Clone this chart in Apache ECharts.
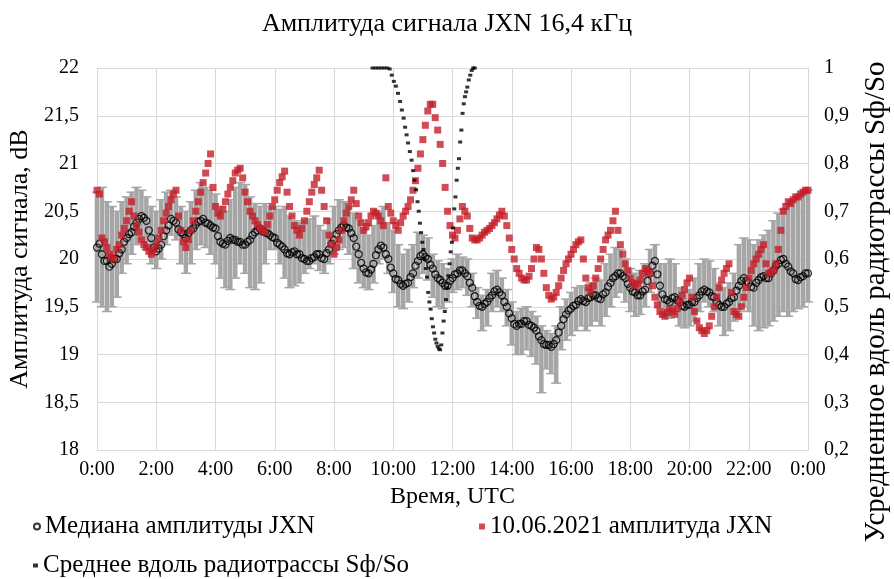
<!DOCTYPE html>
<html>
<head>
<meta charset="utf-8">
<script src="https://cdn.jsdelivr.net/npm/echarts@6/dist/echarts.min.js"></script>
<style>
  html, body { margin: 0; padding: 0; background: #fff; }
  #chart { width: 894px; height: 579px; }
</style>
</head>
<body>
<div id="chart"></div>
<script>
// медиана и 10.06 — шаг 5 минут (289 точек), разброс — шаг 10 минут (145 точек)
const stepMin = 5;
const spreadStepMin = 10;

// медиана амплитуды JXN, dB (по часам, 12 значений в строке)
const medianDb = [
  20.12, 20.16, 20.05, 19.98, 19.98, 19.92, 19.95, 20.00, 20.00, 20.06, 20.10, 20.18,
  20.22, 20.26, 20.28, 20.34, 20.38, 20.42, 20.45, 20.43, 20.40, 20.30, 20.22, 20.12,
  20.08, 20.11, 20.15, 20.24, 20.30, 20.35, 20.42, 20.40, 20.38, 20.31, 20.28, 20.26,
  20.22, 20.27, 20.30, 20.32, 20.36, 20.39, 20.40, 20.42, 20.38, 20.37, 20.35, 20.33,
  20.32, 20.24, 20.18, 20.16, 20.15, 20.19, 20.22, 20.20, 20.20, 20.18, 20.18, 20.15,
  20.15, 20.18, 20.20, 20.25, 20.28, 20.30, 20.32, 20.29, 20.28, 20.27, 20.25, 20.23,
  20.22, 20.17, 20.15, 20.13, 20.10, 20.06, 20.05, 20.07, 20.08, 20.05, 20.05, 20.01,
  20.00, 19.98, 19.98, 20.01, 20.02, 20.05, 20.05, 20.01, 20.00, 20.06, 20.10, 20.16,
  20.20, 20.26, 20.30, 20.33, 20.35, 20.33, 20.32, 20.27, 20.22, 20.13, 20.05, 19.96,
  19.90, 19.86, 19.85, 19.89, 19.95, 20.04, 20.10, 20.14, 20.12, 20.05, 20.00, 19.91,
  19.85, 19.79, 19.78, 19.74, 19.72, 19.74, 19.75, 19.81, 19.85, 19.93, 19.98, 20.03,
  20.05, 20.02, 20.00, 19.94, 19.90, 19.84, 19.80, 19.78, 19.75, 19.72, 19.72, 19.77,
  19.80, 19.84, 19.85, 19.88, 19.88, 19.85, 19.82, 19.75, 19.70, 19.61, 19.55, 19.51,
  19.50, 19.53, 19.55, 19.59, 19.62, 19.66, 19.68, 19.65, 19.62, 19.55, 19.50, 19.43,
  19.38, 19.32, 19.30, 19.32, 19.32, 19.35, 19.35, 19.31, 19.30, 19.28, 19.25, 19.19,
  19.15, 19.11, 19.10, 19.10, 19.08, 19.11, 19.15, 19.23, 19.30, 19.37, 19.42, 19.46,
  19.48, 19.51, 19.52, 19.56, 19.58, 19.56, 19.55, 19.59, 19.60, 19.62, 19.62, 19.59,
  19.58, 19.63, 19.65, 19.71, 19.75, 19.80, 19.82, 19.85, 19.85, 19.82, 19.80, 19.74,
  19.70, 19.66, 19.65, 19.62, 19.62, 19.66, 19.68, 19.77, 19.85, 19.93, 19.98, 19.84,
  19.72, 19.63, 19.58, 19.57, 19.55, 19.59, 19.60, 19.57, 19.55, 19.51, 19.50, 19.52,
  19.52, 19.55, 19.55, 19.59, 19.62, 19.66, 19.68, 19.66, 19.65, 19.61, 19.60, 19.55,
  19.52, 19.50, 19.50, 19.53, 19.55, 19.59, 19.60, 19.67, 19.72, 19.77, 19.80, 19.77,
  19.75, 19.71, 19.70, 19.75, 19.78, 19.81, 19.82, 19.80, 19.80, 19.85, 19.88, 19.93,
  19.95, 19.99, 20.00, 19.95, 19.92, 19.87, 19.85, 19.79, 19.78, 19.81, 19.82, 19.85,
  19.85
];

// нижняя и верхняя границы разброса (серые «усы»), dB
const spreadLow = [
  19.55, 19.50, 19.45, 19.50, 19.60, 19.85, 19.95, 20.05, 20.15, 20.20, 20.10, 19.95,
  19.90, 20.00, 20.15, 20.25, 20.20, 19.95, 19.85, 19.95, 20.10, 20.15, 20.12, 20.05,
  19.95, 19.80, 19.70, 19.68, 19.80, 19.95, 19.85, 19.70, 19.68, 19.75, 19.95, 20.10,
  20.10, 19.95, 19.80, 19.70, 19.72, 19.75, 19.85, 19.90, 19.95, 19.88, 19.85, 19.95,
  20.05, 20.10, 20.12, 20.05, 19.90, 19.75, 19.70, 19.68, 19.75, 19.95, 20.00, 19.85,
  19.65, 19.50, 19.48, 19.55, 19.70, 19.80, 19.85, 19.78, 19.60, 19.50, 19.48, 19.55,
  19.65, 19.68, 19.70, 19.62, 19.50, 19.38, 19.25, 19.30, 19.45, 19.50, 19.45, 19.30,
  19.10, 19.00, 19.00, 19.05, 18.98, 18.90, 18.60, 18.85, 18.80, 18.70, 19.05, 19.15,
  19.20, 19.25, 19.30, 19.25, 19.30, 19.35, 19.30, 19.40, 19.50, 19.60, 19.65, 19.55,
  19.45, 19.40, 19.42, 19.50, 19.65, 19.75, 19.50, 19.40, 19.38, 19.42, 19.30, 19.28,
  19.30, 19.35, 19.45, 19.55, 19.50, 19.45, 19.30, 19.20, 19.25, 19.35, 19.45, 19.50,
  19.45, 19.30, 19.25, 19.28, 19.30, 19.35, 19.40, 19.45, 19.40, 19.45, 19.48, 19.50,
  19.55
];
const spreadHigh = [
  20.70, 20.75, 20.60, 20.55, 20.50, 20.60, 20.65, 20.70, 20.75, 20.72, 20.65, 20.55,
  20.50, 20.62, 20.70, 20.72, 20.65, 20.55, 20.50, 20.60, 20.72, 20.80, 20.75, 20.72,
  20.68, 20.55, 20.50, 20.62, 20.75, 20.80, 20.78, 20.65, 20.58, 20.55, 20.58, 20.55,
  20.55, 20.52, 20.55, 20.45, 20.40, 20.38, 20.40, 20.42, 20.45, 20.35, 20.30, 20.42,
  20.55, 20.62, 20.60, 20.55, 20.48, 20.40, 20.30, 20.25, 20.35, 20.50, 20.55, 20.38,
  20.30, 20.15, 20.05, 20.10, 20.15, 20.28, 20.25, 20.22, 20.05, 19.98, 19.95, 19.90,
  20.00, 20.05, 20.02, 20.00, 19.85, 19.70, 19.62, 19.68, 19.85, 19.88, 19.80, 19.68,
  19.55, 19.45, 19.48, 19.50, 19.45, 19.40, 19.30, 19.25, 19.22, 19.30, 19.50, 19.58,
  19.65, 19.70, 19.72, 19.70, 19.75, 19.80, 19.78, 19.95, 20.05, 20.12, 20.10, 20.00,
  19.90, 19.85, 19.88, 19.95, 20.10, 20.15, 19.95, 19.95, 20.00, 19.95, 19.70, 19.65,
  19.68, 19.80, 19.95, 20.00, 19.98, 19.90, 19.75, 19.70, 19.75, 19.85, 20.15, 20.22,
  20.20, 20.15, 20.20, 20.25, 20.30, 20.40, 20.48, 20.52, 20.58, 20.62, 20.65, 20.70,
  20.72
];

// 10.06.2021 амплитуда JXN, dB (по часам, 12 значений в строке)
const dayDb = [
  20.72, 20.68, 20.22, 20.18, 20.12, 20.05, 20.02, 20.00, 20.10, 20.15, 20.25, 20.32,
  20.40, 20.50, 20.60, 20.45, 20.35, 20.28, 20.20, 20.15, 20.12, 20.08, 20.05, 20.10,
  20.15, 20.22, 20.30, 20.40, 20.48, 20.55, 20.62, 20.68, 20.72, 20.45, 20.30, 20.18,
  20.12, 20.20, 20.30, 20.40, 20.50, 20.60, 20.70, 20.80, 20.90, 21.00, 21.10, 20.75,
  20.55, 20.48, 20.45, 20.52, 20.60, 20.68, 20.75, 20.82, 20.90, 20.93, 20.95, 20.85,
  20.70, 20.60, 20.50, 20.45, 20.40, 20.36, 20.32, 20.30, 20.28, 20.36, 20.45, 20.55,
  20.62, 20.72, 20.80, 20.86, 20.92, 20.70, 20.55, 20.45, 20.35, 20.30, 20.25, 20.32,
  20.40, 20.50, 20.60, 20.70, 20.78, 20.85, 20.93, 20.72, 20.55, 20.40, 20.25, 20.15,
  20.05, 20.12, 20.20, 20.30, 20.40, 20.48, 20.55, 20.62, 20.72, 20.58, 20.45, 20.38,
  20.30, 20.34, 20.38, 20.45, 20.50, 20.48, 20.45, 20.40, 20.35, 20.85, 20.55, 20.48,
  20.40, 20.35, 20.30, 20.38, 20.45, 20.50, 20.55, 20.62, 20.72, 20.82, 20.95, 21.10,
  21.25, 21.40, 21.55, 21.62, 21.62, 21.48, 21.35, 21.20, 21.00, 20.75, 20.50, 20.35,
  20.25, 20.22, 20.30, 20.42, 20.55, 20.50, 20.45, 20.32, 20.22, 20.20, 20.20, 20.22,
  20.25, 20.28, 20.30, 20.32, 20.35, 20.38, 20.42, 20.46, 20.50, 20.45, 20.35, 20.22,
  20.10, 20.00, 19.90, 19.85, 19.80, 19.78, 19.78, 19.82, 19.90, 20.00, 20.12, 20.10,
  20.00, 19.85, 19.70, 19.62, 19.58, 19.60, 19.65, 19.72, 19.80, 19.88, 19.95, 20.00,
  20.05, 20.10, 20.15, 20.18, 20.20, 20.00, 19.80, 19.70, 19.65, 19.72, 19.80, 19.90,
  20.00, 20.10, 20.20, 20.25, 20.30, 20.40, 20.50, 20.30, 20.15, 20.05, 19.95, 19.88,
  19.80, 19.75, 19.72, 19.74, 19.78, 19.85, 19.90, 19.88, 19.85, 19.72, 19.60, 19.52,
  19.45, 19.42, 19.40, 19.44, 19.48, 19.45, 19.42, 19.48, 19.55, 19.62, 19.68, 19.75,
  19.80, 19.60, 19.45, 19.35, 19.28, 19.25, 19.22, 19.25, 19.30, 19.40, 19.50, 19.60,
  19.70, 19.78, 19.85, 19.90, 19.95, 19.65, 19.45, 19.42, 19.40, 19.50, 19.60, 19.70,
  19.80, 19.88, 19.95, 20.00, 20.05, 20.10, 20.15, 19.95, 19.85, 19.86, 19.88, 19.95,
  20.10, 20.30, 20.50, 20.55, 20.60, 20.58, 20.62, 20.65, 20.65, 20.68, 20.70, 20.72,
  20.72
];

// среднее вдоль радиотрассы Sф/So (время в часах UTC и значение)
const sfHours = [
  9.30, 9.40, 9.50, 9.60, 9.70, 9.80, 9.88, 9.95, 10.02, 10.09, 10.16, 10.23, 10.29,
  10.35, 10.40, 10.45, 10.50, 10.56, 10.62, 10.67, 10.72, 10.77, 10.82, 10.86, 10.90,
  10.94, 10.98, 11.02, 11.06, 11.10, 11.14, 11.18, 11.22, 11.26, 11.30, 11.34, 11.38,
  11.42, 11.46, 11.50, 11.54, 11.58, 11.62, 11.66, 11.70, 11.74, 11.78, 11.82, 11.86,
  11.90, 11.94, 11.98, 12.02, 12.06, 12.10, 12.14, 12.18, 12.22, 12.26, 12.30, 12.34,
  12.38, 12.42, 12.46, 12.50, 12.55, 12.60, 12.65, 12.70, 12.75
];
const sfRatio = [
  1.000, 1.000, 1.000, 1.000, 1.000, 1.000, 0.998, 0.985, 0.972, 0.962, 0.947, 0.930, 0.912,
  0.895, 0.876, 0.860, 0.843, 0.825, 0.807, 0.785, 0.765, 0.745, 0.720, 0.700, 0.675,
  0.655, 0.635, 0.620, 0.600, 0.580, 0.562, 0.530, 0.510, 0.495, 0.475, 0.458, 0.445,
  0.432, 0.424, 0.417, 0.412, 0.410, 0.420, 0.445, 0.470, 0.490, 0.515, 0.540, 0.565,
  0.590, 0.615, 0.635, 0.665, 0.705, 0.730, 0.765, 0.790, 0.810, 0.845, 0.870, 0.905,
  0.925, 0.940, 0.950, 0.960, 0.975, 0.985, 0.995, 1.000, 1.000
];

const hourLabels = ["0:00", "2:00", "4:00", "6:00", "8:00", "10:00", "12:00",
  "14:00", "16:00", "18:00", "20:00", "22:00", "0:00"];

const nameMedian = "Медиана амплитуды JXN";
const nameDay = "10.06.2021 амплитуда JXN";
const nameSf = "Среднее вдоль радиотрассы Sф/So";
const rightTitle = "Усредненное вдоль радиотрассы Sф/So";

const font = "Liberation Serif";
const gridColor = "#d9d9d9";

const hourOf = (i, step) => (i * step) / 60;
const comma = v => String(+v.toFixed(2)).replace(".", ",");

let chart = echarts.init(document.getElementById("chart"));

let option = {
  animation: false,
  backgroundColor: "#fff",
  title: {
    text: "Амплитуда сигнала JXN 16,4 кГц",
    left: "center",
    top: 6,
    textStyle: { fontFamily: font, fontSize: 26, fontWeight: "normal", color: "#000" }
  },
  // подпись правой оси — отдельным текстом, она смещена вниз относительно области
  graphic: [
    {
      type: "text",
      x: 876,
      y: 302,
      rotation: Math.PI / 2,
      style: {
        text: rightTitle,
        fontFamily: font,
        fontSize: 29,
        fill: "#000",
        align: "center",
        verticalAlign: "middle"
      }
    }
  ],
  legend: [
    {
      data: [nameMedian], left: 28, top: 509, itemWidth: 6, itemHeight: 6,
      textStyle: { fontFamily: font, fontSize: 25, color: "#000" }
    },
    {
      data: [nameDay], left: 474, top: 509, itemWidth: 6, itemHeight: 6,
      textStyle: { fontFamily: font, fontSize: 25, color: "#000" }
    },
    {
      data: [nameSf], left: 28, top: 548, itemWidth: 5, itemHeight: 4,
      textStyle: { fontFamily: font, fontSize: 25, color: "#000" }
    }
  ],
  grid: { left: 97, right: 86, top: 68, bottom: 129, containLabel: false, outerBoundsMode: "none" },
  xAxis: {
    type: "value",
    min: 0,
    max: 24,
    interval: 2,
    name: "Время, UTC",
    nameLocation: "middle",
    nameGap: 34,
    nameTextStyle: { fontFamily: font, fontSize: 24, color: "#000" },
    axisLine: { lineStyle: { color: gridColor } },
    axisTick: { show: false },
    axisLabel: {
      fontFamily: font, fontSize: 20, color: "#000", margin: 10,
      formatter: v => hourLabels[Math.round(v / 2)]
    },
    splitLine: { show: true, lineStyle: { color: gridColor, width: 1 } }
  },
  yAxis: [
    {
      type: "value",
      min: 18,
      max: 22,
      interval: 0.5,
      name: "Амплитуда сигнала, dB",
      nameLocation: "middle",
      nameGap: 60,
      nameTextStyle: { fontFamily: font, fontSize: 26, color: "#000" },
      axisLine: { show: true, lineStyle: { color: gridColor } },
      axisTick: { show: false },
      axisLabel: { fontFamily: font, fontSize: 20, color: "#000", margin: 18, formatter: comma },
      splitLine: { show: true, lineStyle: { color: gridColor, width: 1 } }
    },
    {
      type: "value",
      position: "right",
      min: 0.2,
      max: 1,
      interval: 0.1,
      axisLine: { show: true, lineStyle: { color: gridColor } },
      axisTick: { show: false },
      axisLabel: { fontFamily: font, fontSize: 20, color: "#000", margin: 16, formatter: comma },
      splitLine: { show: false }
    }
  ],
  series: [
    {
      // серые «усы» разброса вокруг медианы
      name: "spread",
      type: "custom",
      yAxisIndex: 0,
      z: 1,
      silent: true,
      data: spreadLow.map((lo, i) => [hourOf(i, spreadStepMin), lo, spreadHigh[i]]),
      renderItem: (params, api) => {
        const p1 = api.coord([api.value(0), api.value(1)]);
        const p2 = api.coord([api.value(0), api.value(2)]);
        const st = { stroke: "#a6a6a6", lineWidth: 4.5 };
        const cap = { stroke: "#a6a6a6", lineWidth: 1.5 };
        return {
          type: "group",
          children: [
            { type: "line", shape: { x1: p1[0], y1: p1[1], x2: p2[0], y2: p2[1] }, style: st },
            { type: "line", shape: { x1: p1[0] - 5, y1: p1[1], x2: p1[0] + 5, y2: p1[1] }, style: cap },
            { type: "line", shape: { x1: p2[0] - 5, y1: p2[1], x2: p2[0] + 5, y2: p2[1] }, style: cap }
          ]
        };
      }
    },
    {
      name: nameMedian,
      type: "scatter",
      yAxisIndex: 0,
      z: 2,
      symbol: "circle",
      symbolSize: 7,
      itemStyle: { color: "rgba(0,0,0,0)", borderColor: "#000", borderWidth: 1.3 },
      data: medianDb.map((v, i) => [hourOf(i, stepMin), v])
    },
    {
      name: nameDay,
      type: "scatter",
      yAxisIndex: 0,
      z: 3,
      symbol: "rect",
      symbolSize: 7,
      itemStyle: { color: "#c41e28" },
      data: dayDb.map((v, i) => [hourOf(i, stepMin), v])
    },
    {
      name: nameSf,
      type: "scatter",
      yAxisIndex: 1,
      z: 4,
      symbol: "rect",
      symbolSize: [4, 3],
      itemStyle: { color: "#000" },
      data: sfRatio.map((v, i) => [sfHours[i], v])
    }
  ]
};

chart.setOption(option);
</script>
</body>
</html>
